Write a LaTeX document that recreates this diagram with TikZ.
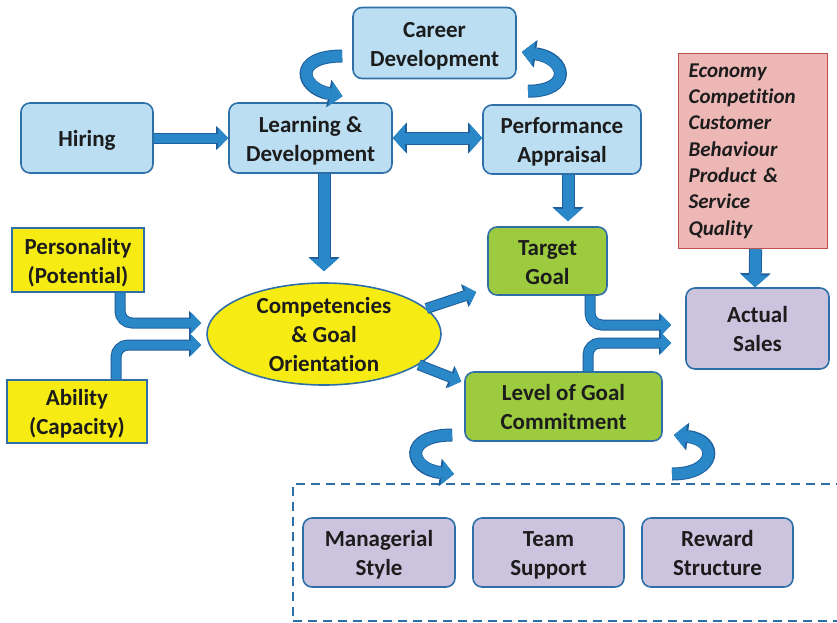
\documentclass[tikz,border=0pt]{standalone}
\usepackage{fontspec}
\setmainfont{Carlito}[Ligatures=NoCommon]
\usetikzlibrary{arrows.meta,shapes.geometric}
\definecolor{lblue}{HTML}{BBDEF2}
\definecolor{bdr}{HTML}{2F6FA8}
\definecolor{yel}{HTML}{F6EC13}
\definecolor{grn}{HTML}{9CCB3F}
\definecolor{lav}{HTML}{CCC4DE}
\definecolor{pinkf}{HTML}{EDB7B5}
\definecolor{redb}{HTML}{C0504D}
\definecolor{arr}{HTML}{2A88C9}
\definecolor{arrd}{HTML}{1E5E9C}
\definecolor{txt}{HTML}{1C1C1C}
\newcommand{\mylines}[1]{\raisebox{-2.8pt}[\height][\depth]{\begin{tabular}{@{}c@{}}#1\end{tabular}}}
\begin{document}
\begin{tikzpicture}[x=1pt,y=-1pt,
  box/.style={draw=bdr, line width=1.6pt, rounded corners=9pt, text=txt,
    font=\fontsize{23}{29.3}\selectfont\bfseries, inner sep=0pt},
  bluebox/.style={box, fill=lblue},
  greenbox/.style={box, fill=grn},
  lavbox/.style={box, fill=lav},
  yelbox/.style={box, fill=yel, rounded corners=0pt},
  redbox/.style={draw=redb, line width=1.2pt, fill=pinkf, align=left, text=txt, inner xsep=10pt,
    font=\fontsize{21}{26.3}\selectfont\bfseries\itshape, text width=129pt},
  blk/.style={draw=arr, line width=11pt, -{Triangle[width=27pt,length=12pt,line width=0pt]},
    preaction={draw=arrd, line width=13pt, -{Triangle[width=31pt,length=14pt,line width=0pt]}}},
  dblk/.style={draw=arr, line width=11pt, {Triangle[width=27pt,length=12pt,line width=0pt]}-{Triangle[width=27pt,length=12pt,line width=0pt]},
    preaction={draw=arrd, line width=13pt, {Triangle[width=31pt,length=14pt,line width=0pt]}-{Triangle[width=31pt,length=14pt,line width=0pt]}}},
  sblk/.style={draw=arr, line width=9pt, -{Triangle[width=21pt,length=10pt,line width=0pt]},
    preaction={draw=arrd, line width=11pt, -{Triangle[width=24pt,length=12pt,line width=0pt]}}},
  carr/.style={draw=arr, line width=11pt, -{Triangle[width=24pt,length=12pt,line width=0pt]},
    preaction={draw=arrd, line width=13pt, -{Triangle[width=28pt,length=14pt,line width=0pt]}}}
]
\useasboundingbox (0,0) rectangle (837,622);

% dashed group
\node[draw=bdr, line width=1.5pt, dash pattern=on 9pt off 6pt, minimum width=560pt, minimum height=137pt, inner sep=0pt, anchor=north west] (grp) at (292,483) {};

% nodes
\node[bluebox, minimum width=163pt, minimum height=71pt] (cd) at (434.5,43) {\mylines{Career\\Development}};
\node[bluebox, minimum width=132pt, minimum height=70pt] (hire) at (87,138) {\mylines{Hiring}};
\node[bluebox, minimum width=163pt, minimum height=70pt] (ld) at (310.5,138) {\mylines{Learning \&\\Development}};
\node[bluebox, minimum width=158pt, minimum height=69pt] (pa) at (562,139.5) {\mylines{Performance\\Appraisal}};
\node[greenbox, minimum width=119pt, minimum height=68pt] (tgt) at (547.5,261) {\mylines{Target\\Goal}};
\node[lavbox, minimum width=143pt, minimum height=81pt] (act) at (757.5,328.5) {\mylines{Actual\\Sales}};
\node[greenbox, minimum width=197pt, minimum height=69pt] (lvl) at (563.5,406.5) {\mylines{Level of Goal\\Commitment}};
\node[ellipse, draw=bdr, line width=1.6pt, fill=yel, minimum width=234pt, minimum height=102pt, inner sep=0pt] (ell) at (324,334) {};
\node[text=txt, font=\fontsize{23}{29.3}\selectfont\bfseries, inner sep=0pt] (elltxt) at (ell.center) {\mylines{Competencies\\\& Goal\\Orientation}};
\node[yelbox, minimum width=132pt, minimum height=64pt] (pers) at (78,260) {\mylines{Personality\\(Potential)}};
\node[yelbox, minimum width=140pt, minimum height=63pt] (abil) at (77,411.5) {\mylines{Ability\\(Capacity)}};
\node[redbox, minimum width=149pt, minimum height=195pt, anchor=north west] (red) at (678,53) {Economy\\Competition\\Customer\\Behaviour\\Product \&\\Service\\Quality};
\node[lavbox, minimum width=152pt, minimum height=69pt] (ms) at (379,552.5) {\mylines{Managerial\\Style}};
\node[lavbox, minimum width=151pt, minimum height=69pt] (ts) at (548.5,552.5) {\mylines{Team\\Support}};
\node[lavbox, minimum width=151pt, minimum height=69pt] (rs) at (717.5,552.5) {\mylines{Reward\\Structure}};

% straight connectors
\draw[sblk] (hire) -- (ld);
\draw[dblk] (ld.east) -- (ld.east -| pa.west);
\draw[blk] (ld.south -| ell.north) -- ([yshift=11pt]ell.north);
\draw[blk] ([xshift=6pt]pa.south) -- ([xshift=20.5pt,yshift=5pt]tgt.north);
\draw[blk] ([xshift=2.5pt]red.south) -- ([xshift=-2.5pt]act.north);
\draw[sblk] (ell.14) -- ([xshift=-11pt,yshift=-31pt]tgt.west);
\draw[sblk] (ell.-18) -- ([xshift=-3pt,yshift=25pt]lvl.west);

% bent connectors
\draw[sblk, rounded corners=12pt] ([xshift=42pt]pers.south) |- ([xshift=-5pt,yshift=11pt]ell.west);
\draw[sblk, rounded corners=12pt] ([xshift=39pt]abil.north) |- ([xshift=-5pt,yshift=-11pt]ell.west);
\draw[sblk, rounded corners=12pt] ([xshift=42.5pt]tgt.south) |- ([xshift=-14pt,yshift=3.5pt]act.west);
\draw[sblk, rounded corners=12pt] ([xshift=24.5pt]lvl.north) |- ([xshift=-14pt,yshift=-14.5pt]act.west);

% curved connectors
\coordinate (c1s) at ([xshift=-10pt,yshift=-13pt]cd.west);
\coordinate (c1e) at ([xshift=32pt,yshift=6pt]ld.north);
\draw[carr] (c1s) .. controls +(-50,0) and +(-42,-8) .. (c1e);
\coordinate (c2s) at ([xshift=-34pt,yshift=13pt]pa.north);
\coordinate (c2e) at ([xshift=5pt,yshift=-9pt]cd.east);
\draw[carr] (c2s) .. controls +(45,0) and +(45,6) .. (c2e);
\coordinate (c3s) at ([xshift=-12pt,yshift=-28.5pt]lvl.west);
\coordinate (c3e) at (454,474);
\draw[carr] (c3s) .. controls +(-50,0) and +(-45,-5) .. (c3e);
\coordinate (c4s) at (672,474);
\coordinate (c4e) at ([xshift=11pt,yshift=-28.5pt]lvl.east);
\draw[carr] (c4s) .. controls +(45,0) and +(45,5) .. (c4e);
\end{tikzpicture}
\end{document}
